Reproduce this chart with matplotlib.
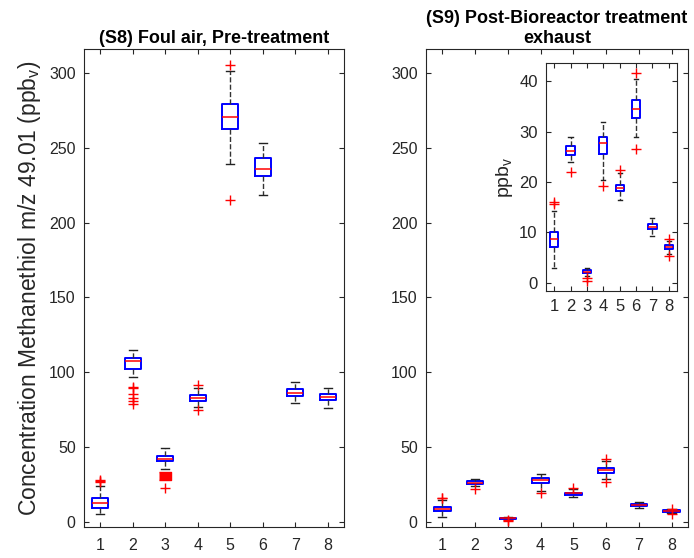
import matplotlib
matplotlib.use("Agg")
import matplotlib.pyplot as plt

plt.rcParams['font.family'] = ['Liberation Sans', 'DejaVu Sans']

groups = [1, 2, 3, 4, 5, 6, 7, 8]

# (S8) foul air, pre-treatment: box statistics per sample
s8_med = [12.7, 107.6, 42.1, 82.8, 270.7, 235.9, 86.2, 83.2]
s8_q1 = [9.4, 102.1, 40.3, 81.0, 262.7, 230.8, 84.2, 81.5]
s8_q3 = [15.8, 109.4, 44.1, 84.6, 279.4, 243.3, 88.4, 85.3]
s8_lo = [5.5, 96.9, 35.4, 76.4, 239.3, 218.6, 79.2, 75.8]
s8_hi = [24.2, 114.7, 49.2, 89.3, 301.2, 253.0, 93.7, 89.3]
s8_fliers = [[26.5, 27.2, 28.0],
             [78.8, 80.8, 82.6, 85.3, 89.6, 90.0],
             [22.5],
             [74.5, 91.5],
             [215.2, 305.4],
             [], [], []]
s8_marked_x = [3]
s8_marked_y = [30.4]

# (S9) post-bioreactor treatment exhaust
s9_med = [8.8, 26.1, 2.2, 27.8, 18.9, 34.5, 11.1, 7.2]
s9_q1 = [7.1, 25.3, 1.9, 25.6, 18.2, 32.7, 10.7, 6.7]
s9_q3 = [10.1, 27.1, 2.5, 29.0, 19.5, 36.2, 11.6, 7.6]
s9_lo = [3.0, 24.0, 1.4, 20.5, 16.5, 28.9, 9.4, 5.8]
s9_hi = [14.3, 28.9, 3.0, 31.9, 21.8, 40.5, 12.9, 8.3]
s9_fliers = [[15.7, 16.1], [22.0], [0.3, 1.0], [19.2], [22.3],
             [26.5, 41.7], [], [5.3, 8.7]]

gray = '#262626'


def make_stats(med, q1, q3, lo, hi, fliers):
    return [dict(med=m, q1=a, q3=b, whislo=l, whishi=h, fliers=f)
            for m, a, b, l, h, f in zip(med, q1, q3, lo, hi, fliers)]


def draw_box(ax, stats, ms=7.5):
    ax.bxp(stats, positions=groups, widths=0.5, showfliers=True,
           boxprops=dict(color='blue', linewidth=1.4),
           medianprops=dict(color='red', linewidth=1.1),
           whiskerprops=dict(color='#333333', linewidth=1.0, linestyle='--'),
           capprops=dict(color='#222222', linewidth=1.0),
           flierprops=dict(marker='+', markeredgecolor='red', markersize=ms,
                           markeredgewidth=1.0),
           capwidths=0.25)


def style(ax, fs=11.5):
    ax.set_xlim(0.5, 8.5)
    ax.set_xticks(groups)
    ax.tick_params(direction='in', top=True, right=True, length=3.5,
                   labelsize=fs, colors=gray, labelcolor=gray, width=0.8)
    ax.tick_params(axis='x', pad=8)
    ax.tick_params(axis='y', pad=6)
    for sp in ax.spines.values():
        sp.set_color(gray)
        sp.set_linewidth(0.8)


fig = plt.figure(figsize=(6.94, 5.58), dpi=100)

ax1 = fig.add_axes([0.121, 0.0556, 0.3746, 0.8566])
draw_box(ax1, make_stats(s8_med, s8_q1, s8_q3, s8_lo, s8_hi, s8_fliers))
ax1.scatter(s8_marked_x, s8_marked_y, s=80, color='red',
            marker=[(-1.5, -1), (1.5, -1), (1.5, 1), (-1.5, 1)], zorder=3)
style(ax1)
ax1.set_ylim(-3.5, 316)
ax1.set_yticks([0, 50, 100, 150, 200, 250, 300])
ax1.set_title('(S8) Foul air, Pre-treatment', fontsize=13, fontweight='bold',
              pad=4)
ax1.set_ylabel('Concentration Methanethiol m/z 49.01 (ppb$_\\mathregular{v}$)',
               fontsize=16.5, color=gray, labelpad=4)

ax2 = fig.add_axes([0.6138, 0.0556, 0.3775, 0.8566])
s9_stats = make_stats(s9_med, s9_q1, s9_q3, s9_lo, s9_hi, s9_fliers)
draw_box(ax2, s9_stats)
style(ax2)
ax2.set_ylim(-3.5, 316)
ax2.set_yticks([0, 50, 100, 150, 200, 250, 300])
ax2.set_title('(S9) Post-Bioreactor treatment\nexhaust', fontsize=13,
              fontweight='bold', pad=4, linespacing=1.3)

# zoomed inset of the S9 samples
ax3 = fig.add_axes([0.7867, 0.4785, 0.1888, 0.4086])
draw_box(ax3, s9_stats)
style(ax3, fs=12)
ax3.tick_params(axis='x', pad=6)
ax3.set_ylim(-1.6, 43.6)
ax3.set_yticks([0, 10, 20, 30, 40])
ax3.set_ylabel('ppb$_\\mathregular{v}$', fontsize=14, color=gray, labelpad=3)

fig.savefig('out.png', dpi=100)
